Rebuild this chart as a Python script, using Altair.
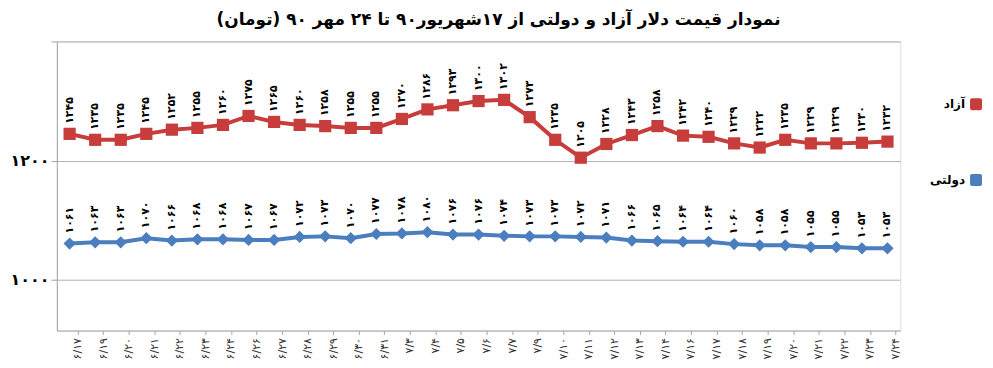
import altair as alt
import pandas as pd

# ---------------- data ----------------
dates = ["۶/۱۷", "۶/۱۹", "۶/۲۰", "۶/۲۱", "۶/۲۲", "۶/۲۳", "۶/۲۴", "۶/۲۶", "۶/۲۷", "۶/۲۸", "۶/۲۹",
         "۶/۳۰", "۶/۳۱", "۷/۳", "۷/۴", "۷/۵", "۷/۶", "۷/۷", "۷/۹", "۷/۱۰", "۷/۱۱", "۷/۱۲",
         "۷/۱۳", "۷/۱۴", "۷/۱۶", "۷/۱۷", "۷/۱۸", "۷/۱۹", "۷/۲۰", "۷/۲۱", "۷/۲۲", "۷/۲۳", "۷/۲۴"]
free_rate = [1245, 1235, 1235, 1245, 1252, 1255, 1260, 1275, 1265, 1260, 1258,
             1255, 1255, 1270, 1286, 1293, 1300, 1302, 1273, 1235, 1205, 1228,
             1243, 1258, 1242, 1240, 1229, 1222, 1235, 1229, 1229, 1230, 1232]
gov_rate = [1061, 1063, 1063, 1070, 1066, 1068, 1068, 1067, 1067, 1072, 1073,
            1070, 1077, 1078, 1080, 1076, 1076, 1074, 1073, 1073, 1072, 1071,
            1066, 1065, 1064, 1064, 1060, 1058, 1058, 1055, 1055, 1053, 1053]
series_names = ["آزاد", "دولتی"]
series_colors = ["#C63D3B", "#4A7EBE"]
series_shapes = ["square", "diamond"]
y_ticks = [1000, 1200, 1400]
y_tick_labels = ["۱۰۰۰", "۱۲۰۰", ""]
title_text = "نمودار قیمت دلار آزاد و دولتی از ۱۷شهریور۹۰ تا ۲۴ مهر ۹۰ (تومان)"

FA = str.maketrans("0123456789", "۰۱۲۳۴۵۶۷۸۹")
FONT = "DejaVu Sans"

rows = []
for name, vals in zip(series_names, [free_rate, gov_rate]):
    for i, d in enumerate(dates):
        rows.append({"date": d, "order": i, "series": name, "value": vals[i],
                     "label": str(vals[i]).translate(FA)})
df = pd.DataFrame(rows)

label_expr = " : ".join(
    [f"datum.value == {v} ? '{l}'" for v, l in zip(y_ticks, y_tick_labels)]) + " : ''"

x_enc = alt.X("date:N", sort=dates,
              scale=alt.Scale(type="point", padding=0.5),
              axis=alt.Axis(title=None, labelAngle=270, labelFont=FONT, labelFontSize=11,
                            labelColor="#333333", tickSize=4, labelPadding=3, tickOffset=8,
                            domainColor="#A6A6A6", tickColor="#A6A6A6", grid=False))
y_enc = alt.Y("value:Q",
              scale=alt.Scale(domain=[915, 1400], nice=False, zero=False),
              axis=alt.Axis(title=None, values=y_ticks, labelExpr=label_expr, labelFont=FONT,
                            labelFontSize=16, labelFontWeight="bold", labelColor="#000000",
                            grid=True, gridColor="#B0B0B0", gridWidth=1,
                            domainColor="#A6A6A6", tickColor="#A6A6A6", tickSize=6,
                            labelPadding=2))
color_enc = alt.Color("series:N", scale=alt.Scale(domain=series_names, range=series_colors),
                      legend=None)
shape_enc = alt.Shape("series:N", scale=alt.Scale(domain=series_names, range=series_shapes),
                      legend=None)

base = alt.Chart(df)
lines = base.mark_line(strokeWidth=4).encode(x=x_enc, y=y_enc, color=color_enc,
                                              detail="series:N", order="order:Q")
pts = base.mark_point(filled=True, opacity=1, size=150).encode(
    x=x_enc, y=y_enc, color=color_enc, shape=shape_enc)
labels = base.mark_text(angle=270, align="left", baseline="middle", dx=10, font=FONT,
                        fontSize=11, fontWeight="bold", color="#000000").encode(
    x=x_enc, y=y_enc, text="label:N")

# legend (symbol at right, RTL style)
legend_y = [63, 139]
legend_layers = []
for name, col, ly in zip(series_names, series_colors, legend_y):
    ldf = pd.DataFrame({"series": [name]})
    legend_layers.append(alt.Chart(ldf).mark_rect(color=col, cornerRadius=2).encode(
        x=alt.value(916), x2=alt.value(928), y=alt.value(ly - 6), y2=alt.value(ly + 6)))
    legend_layers.append(alt.Chart(ldf).mark_text(align="right", baseline="middle", font=FONT,
                                                  fontSize=12, fontWeight="bold",
                                                  color="#000000").encode(
        x=alt.value(911), y=alt.value(ly), text="series:N"))

chart = alt.layer(lines, pts, labels, *legend_layers).properties(
    width=846, height=290,
    title=alt.TitleParams(title_text, font=FONT, fontSize=17, fontWeight="bold",
                          color="#000000", anchor="middle", dx=20, offset=12),
    autosize=alt.AutoSizeParams(type="none"),
    padding={"left": 49, "top": 33, "right": 85, "bottom": 35},
).configure_view(stroke=None).configure(background="white")

chart.save("out.html", embed_options={"renderer": "svg", "actions": False})
